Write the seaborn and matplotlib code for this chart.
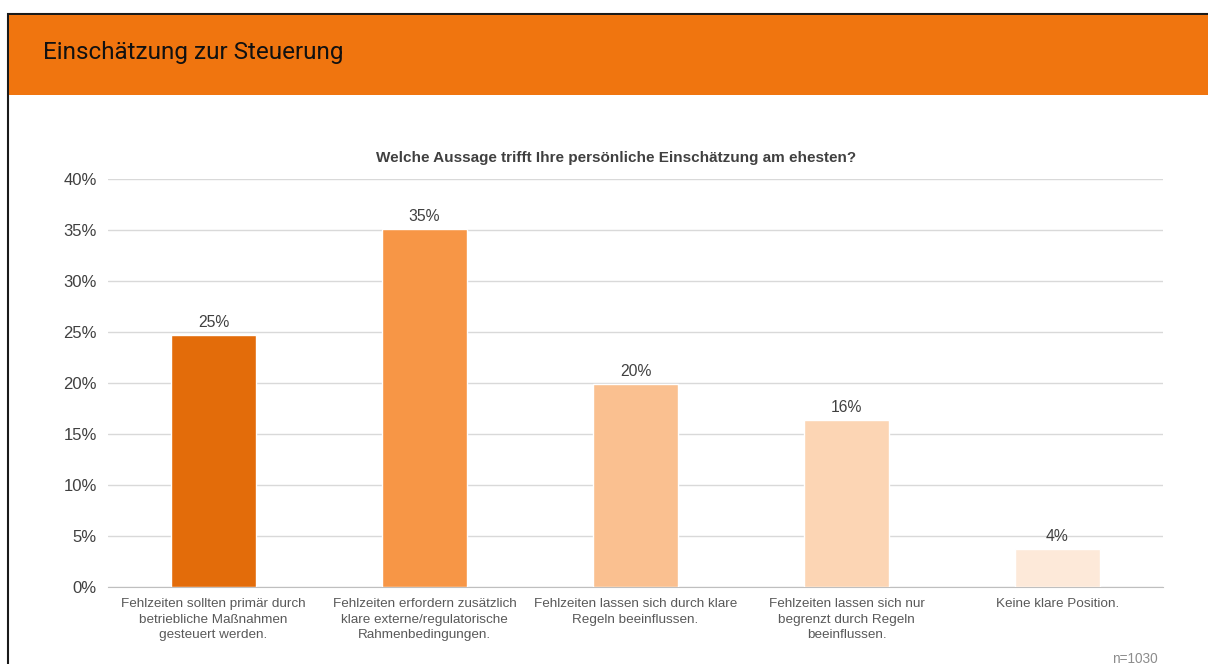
"""
Bar chart: Einschätzung zur Steuerung
"""
import pandas as pd
import matplotlib.pyplot as plt
import seaborn as sns
from matplotlib.patches import Rectangle
from matplotlib.ticker import PercentFormatter

# Data
categories = [
    "Fehlzeiten sollten primär durch\nbetriebliche Maßnahmen\ngesteuert werden.",
    "Fehlzeiten erfordern zusätzlich\nklare externe/regulatorische\nRahmenbedingungen.",
    "Fehlzeiten lassen sich durch klare\nRegeln beeinflussen.",
    "Fehlzeiten lassen sich nur\nbegrenzt durch Regeln\nbeeinflussen.",
    "Keine klare Position.",
]
shares = [24.7, 35.1, 19.9, 16.4, 3.7]
bar_colors = ["#E36C0A", "#F79646", "#FAC090", "#FCD5B4", "#FDE9D9"]
y_ticks = [0, 5, 10, 15, 20, 25, 30, 35, 40]

sns.set_style("white")
plt.rcParams["font.family"] = ["Liberation Sans", "DejaVu Sans"]

df = pd.DataFrame({"category": categories, "share": shares})

fig = plt.figure(figsize=(12.08, 6.64), dpi=100)

# Slide frame and orange header (behind the axes)
fig.patches.append(Rectangle((8 / 1208, -0.05), 1.2, (664 - 14) / 664 + 0.05,
                             transform=fig.transFigure, facecolor="white",
                             edgecolor="#1a1a1a", linewidth=1.5, zorder=-2))
fig.patches.append(Rectangle((9 / 1208, (664 - 95) / 664), 1.0, 80 / 664,
                             transform=fig.transFigure, facecolor="#F0750F",
                             edgecolor="none", zorder=-1))
fig.text(43 / 1208, 1 - 53 / 664, "Einschätzung zur Steuerung", fontsize=17.5,
         color="#111111", va="center", ha="left",
         family=["Roboto", "DejaVu Sans"])

ax = fig.add_axes([108 / 1208, 1 - 587 / 664, 1055 / 1208, 408 / 664])
ax.patch.set_alpha(0)
sns.barplot(data=df, x="category", y="share", hue="category",
            palette=bar_colors, saturation=1, width=0.4, legend=False,
            ax=ax, zorder=3)

for patch, val in zip(ax.patches, shares):
    ax.text(patch.get_x() + patch.get_width() / 2, val + 0.5, f"{round(val)}%",
            ha="center", va="bottom", fontsize=11.3, color="#404040", zorder=4)

ax.set_ylim(0, 40)
ax.set_yticks(y_ticks)
ax.yaxis.set_major_formatter(PercentFormatter(decimals=0))
ax.grid(axis="y", color="#D9D9D9", linewidth=1, zorder=0)
ax.set_axisbelow(True)
for side in ["top", "right", "left"]:
    ax.spines[side].set_visible(False)
ax.spines["bottom"].set_color("#BFBFBF")
ax.tick_params(axis="y", length=0, labelsize=12, labelcolor="#404040", pad=8)
ax.tick_params(axis="x", length=0, labelsize=9.7, labelcolor="#595959", pad=8)
for lbl in ax.get_xticklabels():
    lbl.set_linespacing(1.4)
ax.set_xlabel("")
ax.set_ylabel("")
ax.set_title("Welche Aussage trifft Ihre persönliche Einschätzung am ehesten?",
             fontsize=11, fontweight="bold", color="#404040", pad=12,
             x=(616 - 108) / 1055)

fig.text(1158 / 1208, 1 - 659 / 664, "n=1030", fontsize=9.8, color="#8C8C8C",
         ha="right", va="center")

fig.savefig("out.png", dpi=100)
